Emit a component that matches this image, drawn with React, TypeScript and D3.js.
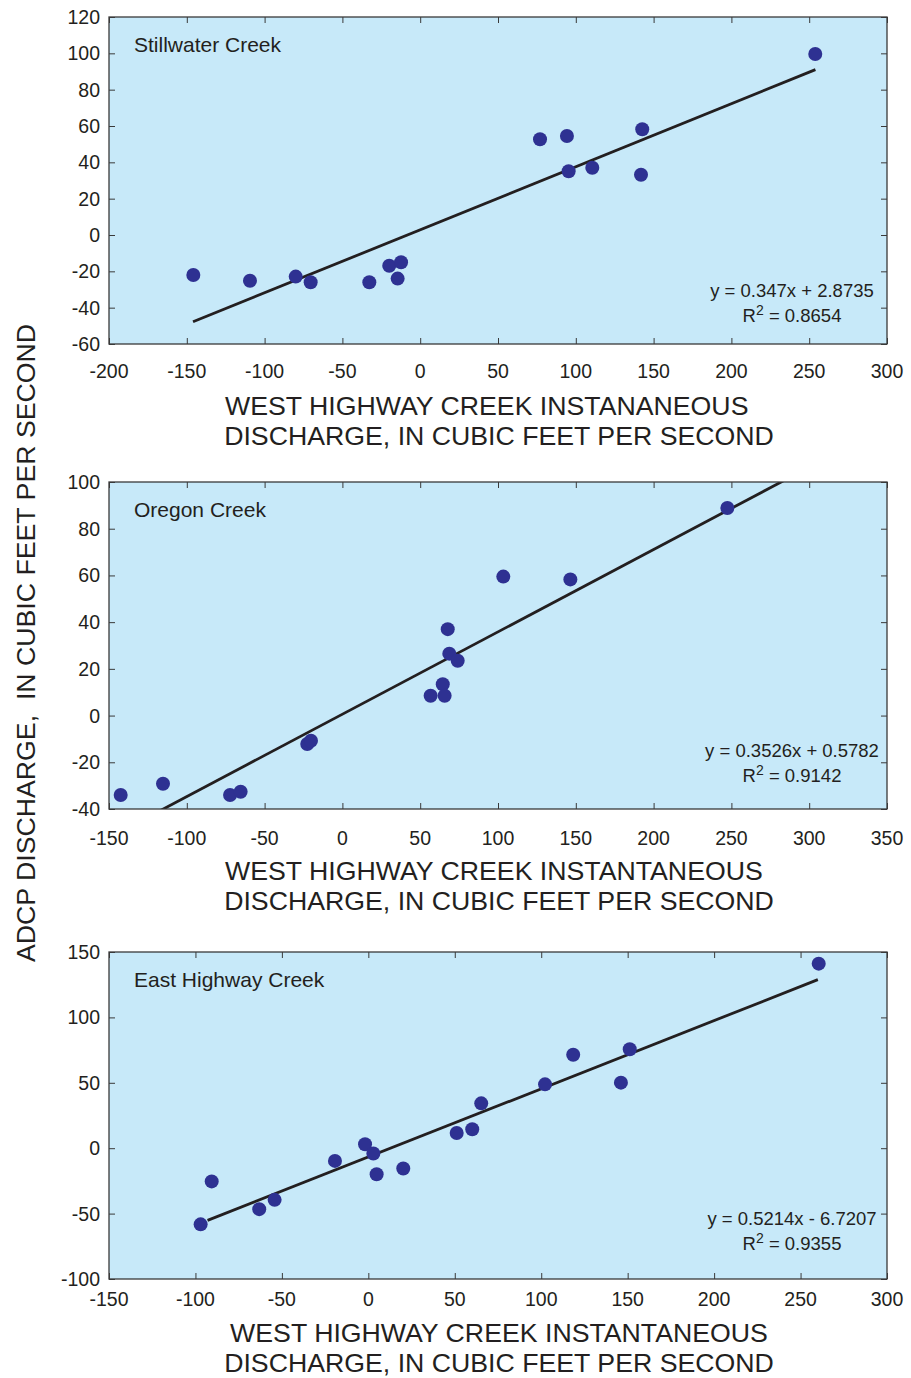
import React, { useRef, useEffect } from 'react'
import * as d3 from 'd3'

// ADCP discharge vs West Highway Creek discharge, three creeks
const panelNames = ['Stillwater Creek', 'Oregon Creek', 'East Highway Creek']

const stillwaterX = [-145.8, -109.4, -80, -70.4, -32.7, -19.9, -12.3, -14.5, 77, 94.3, 95.4, 110.6, 142.7, 141.9, 253.9]
const stillwaterY = [-22, -25.2, -22.9, -26, -26, -16.9, -15, -24, 52.7, 54.5, 35.1, 37, 58.2, 33.2, 99.6]

const oregonX = [-142.5, -115.3, -72.2, -65.4, -22.6, -20.2, 56.7, 64.5, 65.7, 67.7, 68.7, 74.1, 103.4, 146.5, 247.4]
const oregonY = [-34, -29.2, -34, -32.6, -12.2, -10.8, 8.5, 13.4, 8.5, 37, 26.5, 23.5, 59.5, 58.3, 88.9]

const eastHwyX = [-97, -90.6, -63.1, -54.2, -19.3, -1.9, 2.9, 4.8, 20.2, 51.1, 60.1, 65.3, 102.2, 118.5, 146.1, 151.2, 260.5]
const eastHwyY = [-58.2, -25.4, -46.6, -39.5, -9.7, 3, -4.1, -19.9, -15.5, 11.6, 14.5, 34.3, 48.8, 71.4, 50.1, 75.7, 141.1]

const slopes = [0.347, 0.3526, 0.5214]
const intercepts = [2.8735, 0.5782, -6.7207]
const equations = ['y = 0.347x + 2.8735', 'y = 0.3526x + 0.5782', 'y = 0.5214x - 6.7207']
const rSquared = ['0.8654', '0.9142', '0.9355']
const trendFrom = [-146, -150, -93]
const trendTo = [254, 350, 260]

const xDomains = [[-200, 300], [-150, 350], [-150, 300]]
const yDomains = [[-60, 120], [-40, 100], [-100, 150]]
const yTickStep = [20, 20, 50]
const xTickStep = 50

const xTitleLine1 = [
  'WEST HIGHWAY CREEK INSTANANEOUS',
  'WEST HIGHWAY CREEK INSTANTANEOUS',
  'WEST HIGHWAY CREEK INSTANTANEOUS',
]
const xTitleLine2 = 'DISCHARGE, IN CUBIC FEET PER SECOND'
const yTitle = 'ADCP DISCHARGE,  IN CUBIC FEET PER SECOND'

const W = 911
const H = 1378
const FONT = '"Liberation Sans", Arial, Helvetica, sans-serif'
const INK = '#231f20'

// panel layout (pixels)
const left = 109
const right = 887
const tops = [17, 482, 952]
const bottoms = [344, 809, 1279]
const tickLabelGap = [34, 36, 27]
const titleGap = [71, 71, 63]
const eqGap = [47, 52, 54]

const App = () => {
  const svgRef = useRef<SVGSVGElement>(null)

  useEffect(() => {
    const svg = d3.select(svgRef.current)
    svg.selectAll('*').remove()

    const allX = [stillwaterX, oregonX, eastHwyX]
    const allY = [stillwaterY, oregonY, eastHwyY]

    panelNames.forEach((name, p) => {
      const top = tops[p]
      const bottom = bottoms[p]
      const x = d3.scaleLinear().domain(xDomains[p]).range([left, right])
      const y = d3.scaleLinear().domain(yDomains[p]).range([bottom, top])
      const xTicks = d3.range(xDomains[p][0], xDomains[p][1] + 1, xTickStep)
      const yTicks = d3.range(yDomains[p][0], yDomains[p][1] + 1, yTickStep[p])

      const g = svg.append('g')

      g.append('clipPath').attr('id', `clip${p}`)
        .append('rect')
        .attr('x', left).attr('y', top)
        .attr('width', right - left).attr('height', bottom - top)

      g.append('rect')
        .attr('x', left).attr('y', top)
        .attr('width', right - left).attr('height', bottom - top)
        .attr('fill', '#c7e9f9')

      // inward ticks on all four sides
      const tickLen = 6
      const axes = [
        d3.axisBottom(x).tickValues(xTicks).tickSize(-tickLen).tickFormat(() => ''),
        d3.axisTop(x).tickValues(xTicks).tickSize(-tickLen).tickFormat(() => ''),
        d3.axisLeft(y).tickValues(yTicks).tickSize(-tickLen).tickFormat(() => ''),
        d3.axisRight(y).tickValues(yTicks).tickSize(-tickLen).tickFormat(() => ''),
      ]
      const trans = [`translate(0,${bottom})`, `translate(0,${top})`, `translate(${left},0)`, `translate(${right},0)`]
      axes.forEach((ax, i) => {
        const a = g.append('g').attr('transform', trans[i]).call(ax as any)
        a.select('.domain').remove()
        a.selectAll('line').attr('stroke', '#3a3a3a').attr('stroke-width', 1)
      })

      // tick labels
      g.selectAll('.xl')
        .data(xTicks)
        .join('text')
        .attr('x', d => x(d))
        .attr('y', bottom + tickLabelGap[p])
        .attr('text-anchor', 'middle')
        .attr('font-family', FONT)
        .attr('font-size', 19.5)
        .attr('fill', INK)
        .text(d => d)
      g.selectAll('.yl')
        .data(yTicks)
        .join('text')
        .attr('x', 100)
        .attr('y', d => y(d) + 7)
        .attr('text-anchor', 'end')
        .attr('font-family', FONT)
        .attr('font-size', 19.5)
        .attr('fill', INK)
        .text(d => d)

      // trend line
      const line = d3.line<number>()
        .x(d => x(d))
        .y(d => y(slopes[p] * d + intercepts[p]))
      g.append('path')
        .attr('clip-path', `url(#clip${p})`)
        .attr('d', line([trendFrom[p], trendTo[p]]))
        .attr('stroke', INK)
        .attr('stroke-width', 2.8)
        .attr('fill', 'none')

      // points
      g.selectAll('.pt')
        .data(allX[p])
        .join('circle')
        .attr('cx', d => x(d))
        .attr('cy', (d, i) => y(allY[p][i]))
        .attr('r', 7)
        .attr('fill', '#2e3192')

      // border
      g.append('rect')
        .attr('x', left).attr('y', top)
        .attr('width', right - left).attr('height', bottom - top)
        .attr('fill', 'none')
        .attr('stroke', '#3a3a3a')
        .attr('stroke-width', 1.3)

      // creek name
      g.append('text')
        .attr('x', 134)
        .attr('y', top + 35)
        .attr('font-family', FONT)
        .attr('font-size', 21)
        .attr('fill', INK)
        .text(name)

      // regression equation
      const eqY = bottom - eqGap[p]
      g.append('text')
        .attr('x', 792).attr('y', eqY)
        .attr('text-anchor', 'middle')
        .attr('font-family', FONT)
        .attr('font-size', 18.5)
        .attr('fill', INK)
        .text(equations[p])
      const r2 = g.append('text')
        .attr('x', 792).attr('y', eqY + 25)
        .attr('text-anchor', 'middle')
        .attr('font-family', FONT)
        .attr('font-size', 18.5)
        .attr('fill', INK)
      r2.append('tspan').text('R')
      r2.append('tspan').attr('font-size', 14).attr('dy', -7).text('2')
      r2.append('tspan').attr('dy', 7).text(` = ${rSquared[p]}`)

      // x axis title
      const t1 = g.append('text')
        .attr('y', bottom + titleGap[p])
        .attr('font-family', FONT)
        .attr('font-size', 26.7)
        .attr('fill', INK)
        .text(xTitleLine1[p])
      if (p < 2) t1.attr('x', 225).attr('text-anchor', 'start')
      else t1.attr('x', 499).attr('text-anchor', 'middle')
      g.append('text')
        .attr('x', 499)
        .attr('y', bottom + titleGap[p] + 30)
        .attr('text-anchor', 'middle')
        .attr('font-family', FONT)
        .attr('font-size', 26.7)
        .attr('fill', INK)
        .text(xTitleLine2)
    })

    svg.append('text')
      .attr('transform', 'translate(35,643) rotate(-90)')
      .attr('text-anchor', 'middle')
      .attr('font-family', FONT)
      .attr('font-size', 26.7)
      .attr('fill', INK)
      .attr('xml:space', 'preserve')
      .style('white-space', 'pre')
      .text(yTitle)
  }, [])

  return (
    <div className='App'>
      <svg ref={svgRef} width={W} height={H}
        style={{ position: 'absolute', left: 0, top: 0, background: '#fff' }} />
    </div>
  )
}

export default App
